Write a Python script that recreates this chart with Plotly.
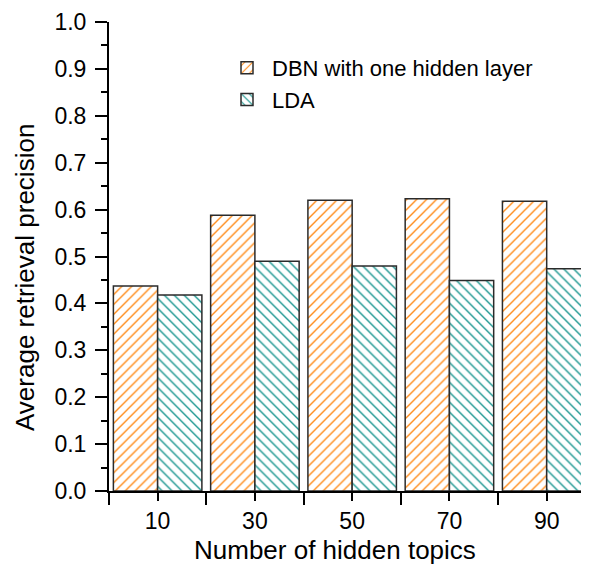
import plotly.graph_objects as go

topics = [10, 30, 50, 70, 90]
dbn = [0.437, 0.588, 0.620, 0.623, 0.618]
lda = [0.418, 0.490, 0.480, 0.449, 0.474]
y_ticks = [0.0, 0.1, 0.2, 0.3, 0.4, 0.5, 0.6, 0.7, 0.8, 0.9, 1.0]
x_boundaries = [0, 20, 40, 60, 80]

FONT = "Liberation Sans, Arial, sans-serif"
ORANGE = "#FF8C1A"
TEAL = "#1A9690"
EDGE = "#2B2B2B"

# page body has an 8px margin; figure sized so the plot lands where the reference's does
W, H = 581, 559
L, T, B = 101, 14, 76
PW = W - L
PH = H - T - B

fig = go.Figure()
fig.add_trace(go.Bar(
    x=topics, y=dbn, name="DBN with one hidden layer",
    marker=dict(color="white", line=dict(color=EDGE, width=1.5),
                pattern=dict(shape="/", fgcolor=ORANGE, bgcolor="white", fgopacity=1,
                             size=7, solidity=0.2, fillmode="overlay")),
))
fig.add_trace(go.Bar(
    x=topics, y=lda, name="LDA",
    marker=dict(color="white", line=dict(color=EDGE, width=1.5),
                pattern=dict(shape="\\", fgcolor=TEAL, bgcolor="white", fgopacity=1,
                             size=7, solidity=0.2, fillmode="overlay")),
))

fig.update_layout(
    width=W, height=H,
    margin=dict(l=L, r=0, t=T, b=B, autoexpand=False),
    paper_bgcolor="white", plot_bgcolor="white",
    barmode="group", bargap=0.09, bargroupgap=0,
    font=dict(family=FONT, size=22, color="black"),
    showlegend=True,
    legend=dict(x=(214 - L) / PW, y=(T + PH - 39) / PH, xanchor="left", yanchor="top",
                font=dict(family=FONT, size=22, color="black"),
                bgcolor="rgba(0,0,0,0)", tracegroupgap=0, itemwidth=40),
    xaxis=dict(range=[0, 98.7], tickmode="array", tickvals=topics,
               ticktext=[str(t) for t in topics],
               ticks="outside", ticklen=8, tickwidth=2, tickcolor="black",
               showline=True, linecolor="black", linewidth=2,
               showgrid=False, zeroline=False, automargin=False,
               minor=dict(tickmode="array", tickvals=x_boundaries, ticks="outside",
                          ticklen=12, tickwidth=2, tickcolor="black", showgrid=False),
               tickfont=dict(size=23)),
    yaxis=dict(range=[0, 1], tickmode="array", tickvals=y_ticks,
               ticktext=[f"{v:.1f}" for v in y_ticks],
               ticks="outside", ticklen=12, tickwidth=2, tickcolor="black",
               showline=True, linecolor="black", linewidth=2,
               showgrid=False, zeroline=False, automargin=False,
               ticklabelstandoff=4,
               minor=dict(dtick=0.05, tick0=0, ticks="outside", ticklen=6,
                          tickwidth=2, tickcolor="black", showgrid=False),
               tickfont=dict(size=23)),
)

# axis titles placed as paper annotations (page px -> figure px by subtracting 8)
fig.add_annotation(text="Number of hidden topics", xref="paper", yref="paper",
                   x=(335 - 8 - L) / PW, y=(T + PH - (550 - 8)) / PH, xanchor="center",
                   yanchor="middle", showarrow=False, font=dict(size=26, family=FONT))
fig.add_annotation(text="Average retrieval precision", xref="paper", yref="paper",
                   x=(25 - 8 - L) / PW, y=(T + PH - (278 - 8)) / PH, xanchor="center",
                   yanchor="middle", textangle=-90, showarrow=False,
                   font=dict(size=26, family=FONT))

fig.write_html("out.html")
